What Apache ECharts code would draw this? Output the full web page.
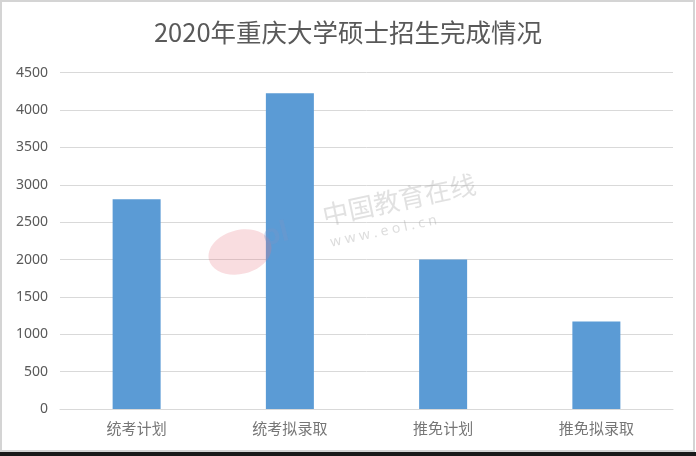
<!DOCTYPE html>
<html>
<head>
<meta charset="utf-8">
<script src="https://cdn.jsdelivr.net/npm/echarts@6/dist/echarts.min.js"></script>
<style>
html,body{margin:0;padding:0;background:#fff;}
#c{width:696px;height:456px;}
</style>
</head>
<body>
<div id="c"></div>
<script>
var titleText = '2020年重庆大学硕士招生完成情况';
var categories = ['统考计划', '统考拟录取', '推免计划', '推免拟录取'];
var values = [2805, 4225, 2000, 1170];
var yTicks = [0, 500, 1000, 1500, 2000, 2500, 3000, 3500, 4000, 4500];

var chart = echarts.init(document.getElementById('c'));
chart.setOption({
  backgroundColor: '#ffffff',
  animation: false,
  title: {
    text: titleText,
    left: 'center',
    top: 15,
    textStyle: {
      fontFamily: 'Noto Sans CJK SC',
      fontSize: 25.5,
      fontWeight: 'normal',
      color: '#595959'
    }
  },
  grid: { left: 60, right: 23, top: 72.7, bottom: 47, containLabel: false },
  xAxis: {
    type: 'category',
    data: categories,
    axisLine: { lineStyle: { color: '#d9d9d9', width: 1 } },
    axisTick: { show: false },
    axisLabel: {
      margin: 12,
      fontFamily: 'Noto Sans CJK SC',
      fontSize: 15,
      color: '#767676'
    }
  },
  yAxis: {
    type: 'value',
    min: yTicks[0],
    max: yTicks[yTicks.length - 1],
    interval: 500,
    axisLine: { show: false },
    axisTick: { show: false },
    splitLine: { lineStyle: { color: '#d9d9d9', width: 1 } },
    axisLabel: {
      margin: 12,
      fontFamily: 'Noto Sans',
      fontSize: 14,
      color: '#595959',
      formatter: function (v) { return String(v); }
    }
  },
  series: [{
    type: 'bar',
    data: values,
    barWidth: 48,
    itemStyle: { color: '#5b9bd5' }
  }],
  graphic: [
    {
      type: 'rect', z: 100, silent: true,
      shape: { x: 1, y: 1, width: 693, height: 450 },
      style: { fill: 'none', stroke: '#d4d4d4', lineWidth: 2 }
    },
    {
      type: 'rect', z: 100, silent: true,
      shape: { x: 0, y: 452, width: 696, height: 4 },
      style: { fill: '#1a1a1a' }
    },
    {
      type: 'group', z: 100, silent: true, x: 330, y: 250, rotation: Math.PI * 12 / 180,
      children: [
        { type: 'text', z: 100, x: 0, y: -48, style: { text: '中国教育在线', font: '26px "Noto Sans CJK SC"', fill: 'rgba(170,170,170,0.35)' } },
        { type: 'text', z: 100, x: 2, y: -14, style: { text: 'w w w . e o l . c n', font: '14px "Noto Sans"', fill: 'rgba(170,170,170,0.4)' } }
      ]
    },
    {
      type: 'group', z: 100, silent: true, x: 240, y: 252, rotation: Math.PI * 14 / 180,
      children: [
        { type: 'ellipse', z: 100, shape: { cx: 0, cy: 0, rx: 32, ry: 22 }, style: { fill: 'rgba(230,120,130,0.25)' } },
        { type: 'text', z: 100, x: 26, y: -22, style: { text: 'ol', font: 'bold 28px "Noto Sans"', fill: 'rgba(120,150,200,0.35)' } }
      ]
    }
  ]
});
</script>
</body>
</html>
